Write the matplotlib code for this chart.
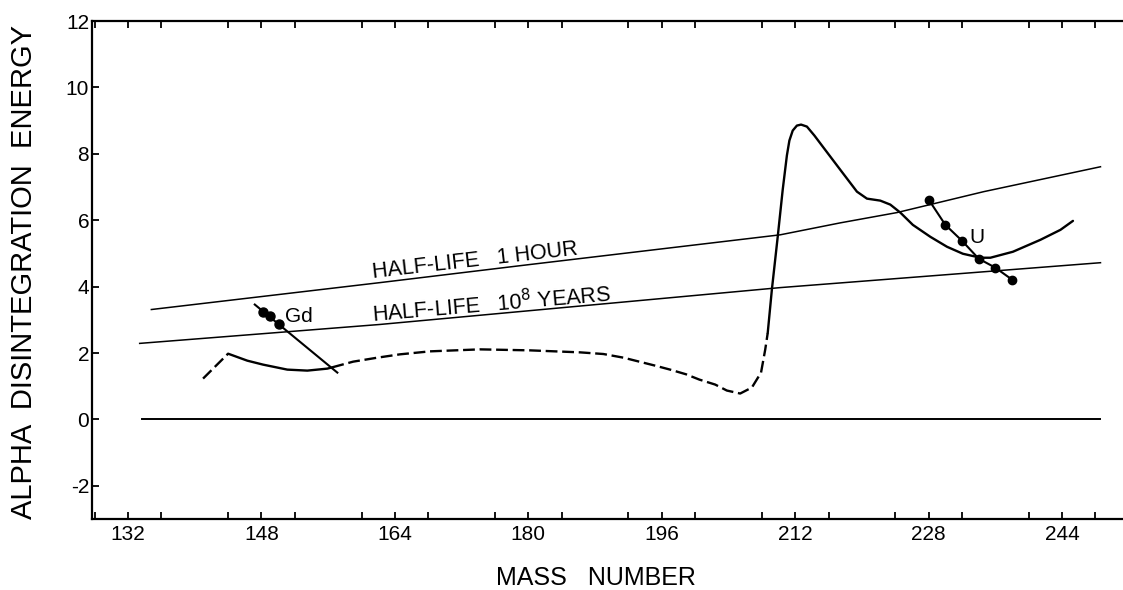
import numpy as np
import matplotlib
matplotlib.use("Agg")
import matplotlib.pyplot as plt
from matplotlib.ticker import MultipleLocator

plt.rcParams["font.family"] = ["Liberation Sans", "DejaVu Sans"]
plt.rcParams["axes.unicode_minus"] = False

# half-life reference lines
hour_x = [134.8, 162.2, 180.0, 210.2, 217.4, 224.2, 234.6, 248.6]
hour_y = [3.31, 4.12, 4.66, 5.56, 5.92, 6.23, 6.86, 7.61]
years_x = [133.4, 162.2, 210.2, 248.6]
years_y = [2.29, 2.86, 3.97, 4.72]
zero_x = [133.7, 248.6]
zero_y = [0.0, 0.0]

# alpha energy curve, split into dashed / solid pieces
dash_left_x = [141.0, 144.0]
dash_left_y = [1.23, 1.98]
solid_gd_x = [144.0, 146.3, 148.2, 151.1, 153.5, 155.9, 156.5]
solid_gd_y = [1.98, 1.77, 1.65, 1.50, 1.47, 1.53, 1.57]
dash_mid_x = [156.5, 159.0, 161.9, 164.6, 168.2, 174.2, 180.2, 186.2, 189.0,
              191.4, 193.3, 195.2, 197.0, 198.9, 200.5, 202.4, 203.8, 205.4,
              206.8, 207.9, 208.4, 208.7]
dash_mid_y = [1.57, 1.74, 1.86, 1.96, 2.05, 2.11, 2.08, 2.02, 1.97,
              1.86, 1.74, 1.62, 1.50, 1.36, 1.20, 1.05, 0.87, 0.78,
              0.96, 1.41, 2.10, 2.60]
solid_right_x = [208.7, 209.2, 209.9, 210.5, 211.0, 211.3, 211.7, 212.2, 212.7,
                 213.4, 214.3, 215.2, 217.4, 219.4, 220.6, 222.2, 223.4, 224.6,
                 226.1, 228.2, 230.2, 232.1, 234.2, 235.4, 238.1, 241.4, 243.8,
                 245.3]
solid_right_y = [2.60, 3.91, 5.50, 6.92, 7.95, 8.40, 8.70, 8.85, 8.88,
                 8.82, 8.55, 8.25, 7.52, 6.86, 6.65, 6.59, 6.47, 6.23,
                 5.86, 5.50, 5.20, 4.99, 4.87, 4.87, 5.05, 5.41, 5.71,
                 5.98]

# isotope points
gd_line_x = [147.2, 157.1]
gd_line_y = [3.46, 1.41]
gd_x = [148.2, 149.0, 150.1]
gd_y = [3.25, 3.10, 2.86]
u_x = [228, 230, 232, 234, 236, 238]
u_y = [6.62, 5.86, 5.38, 4.84, 4.57, 4.21]

xticks = [132, 148, 164, 180, 196, 212, 228, 244]
yticks = [-2, 0, 2, 4, 6, 8, 10, 12]

fig = plt.figure(figsize=(11.23, 5.90), dpi=100)
ax = fig.add_axes([0.0819, 0.1203, 0.9181, 0.8441])

ax.plot(hour_x, hour_y, color="black", lw=1.1)
ax.plot(years_x, years_y, color="black", lw=1.1)
ax.plot(zero_x, zero_y, color="black", lw=1.4)

dash = (0, (5, 2))
ax.plot(dash_left_x, dash_left_y, color="black", lw=1.7, ls=dash)
ax.plot(solid_gd_x, solid_gd_y, color="black", lw=1.7, solid_capstyle="round")
ax.plot(dash_mid_x, dash_mid_y, color="black", lw=1.7, ls=dash)
ax.plot(solid_right_x, solid_right_y, color="black", lw=1.7,
        solid_joinstyle="round", solid_capstyle="round")

ax.plot(gd_line_x, gd_line_y, color="black", lw=1.5)
ax.plot(gd_x, gd_y, "o", color="black", ms=6.5)
ax.plot(u_x, u_y, "-o", color="black", lw=1.5, ms=6)

ax.text(161.4, 4.27, "HALF-LIFE   1 HOUR", fontsize=15.5, rotation=6.5,
        rotation_mode="anchor", ha="left", va="baseline")
ax.text(161.4, 2.92, "HALF-LIFE   10$^{8}$ YEARS", fontsize=15.5, rotation=4.9,
        rotation_mode="anchor", ha="left", va="baseline")
ax.text(150.8, 2.92, "Gd", fontsize=15, ha="left", va="baseline")
ax.text(232.85, 5.32, "U", fontsize=15, ha="left", va="baseline")

ax.set_xlim(127.68, 251.3)
ax.set_ylim(-3, 12)
ax.set_xticks(xticks)
ax.xaxis.set_minor_locator(MultipleLocator(8))
ax.set_yticks(yticks)

for s in ["left", "bottom", "top"]:
    ax.spines[s].set_linewidth(1.6)
ax.spines["right"].set_visible(False)

ax.tick_params(axis="x", which="both", direction="in", top=True, length=5,
               width=1.3, labelsize=15, pad=4)
ax.tick_params(axis="y", which="both", direction="in", right=False, length=5,
               width=1.3, labelsize=15, pad=2)

ax.set_xlabel("MASS   NUMBER", fontsize=18)
ax.xaxis.set_label_coords(0.489, -0.094)
ax.set_ylabel("ALPHA  DISINTEGRATION  ENERGY", fontsize=21)
ax.yaxis.set_label_coords(-0.052, 0.497)

fig.savefig("out.png", dpi=100)
